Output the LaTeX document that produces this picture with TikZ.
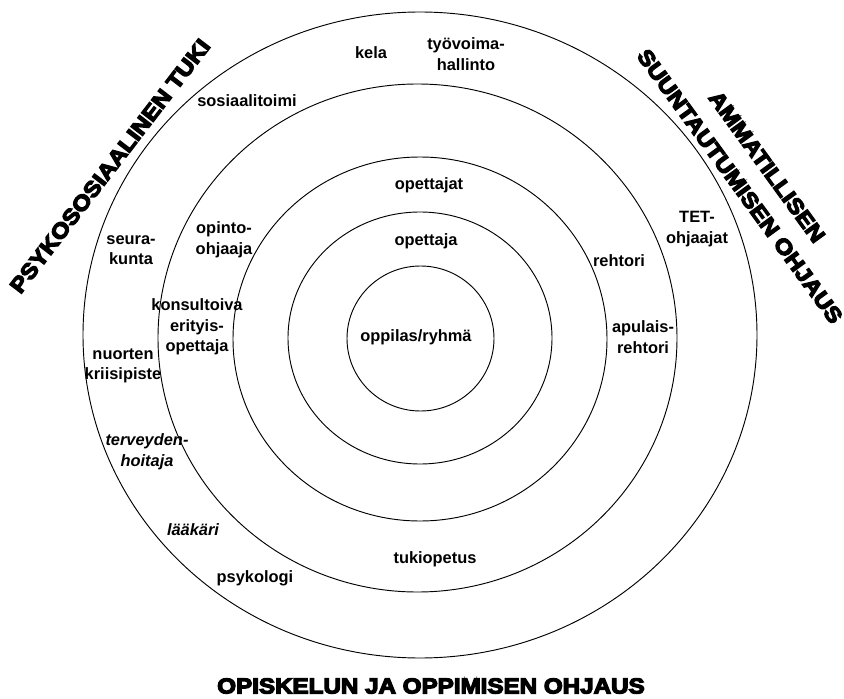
\documentclass[tikz,border=0pt]{standalone}
\usepackage{fontspec}
\usepackage{graphicx}
\setmainfont{Liberation Sans}
\newcommand\heavytext[1]{\special{pdf:literal direct 2 Tr 0.9 w}#1\special{pdf:literal direct 0 Tr}}
\begin{document}
\begin{tikzpicture}[x=0.75pt,y=-0.75pt,
  ring/.style={draw=black,line width=0.7pt},
  lbl/.style={font=\fontsize{12.3}{15.5}\selectfont\bfseries,align=center,inner sep=0pt},
  ilbl/.style={font=\fontsize{12.3}{15.5}\selectfont\bfseries\itshape,align=center,inner sep=0pt},
  big/.style={font=\fontsize{16.2}{25}\selectfont\bfseries,align=center,inner sep=0pt}]
\useasboundingbox (0,0) rectangle (844,699);
% rings
\draw[ring] (420.5,338.5) ellipse [x radius=73.5, y radius=72.5];
\draw[ring] (420,338) ellipse [x radius=132, y radius=126];
\draw[ring] (420,339) ellipse [x radius=187, y radius=182];
\draw[ring] (417.5,338) ellipse [x radius=259.5, y radius=254];
\draw[ring] (420,335) ellipse [x radius=337, y radius=323];
% small labels
\node[lbl] (kela) at (371,53) {kela};
\node[lbl] (tyo) at (466,54) {työvoima-\\hallinto};
\node[lbl] (sos) at (247,101) {sosiaalitoimi};
\node[lbl] (opettajat) at (429,185) {opettajat};
\node[lbl] (opettaja) at (426,241) {opettaja};
\node[lbl] (opinto) at (224,240) {opinto-\\ohjaaja};
\node[lbl] (seura) at (131,250) {seura-\\kunta};
\node[lbl] (konsult) at (197,327) {konsultoiva\\erityis-\\opettaja};
\node[lbl] (nuorten) at (123,366) {nuorten\\kriisipiste};
\node[ilbl] (terv) at (147,452) {terveyden-\\hoitaja};
\node[ilbl] (laakari) at (193,530) {lääkäri};
\node[lbl] (psyk) at (255,578) {psykologi};
\node[lbl] (tuki) at (435,559) {tukiopetus};
\node[lbl] (rehtori) at (619,261) {rehtori};
\node[lbl] (tet) at (697,229) {TET-\\ohjaajat};
\node[lbl] (apul) at (643,337) {apulais-\\rehtori};
\node[lbl] (oppilas) at (416,337) {oppilas/ryhmä};
% big labels
\node[big,rotate=52.5] (psyko) at (110,166) {\heavytext{\scalebox{1.12}[1]{PSYKOSOSIAALINEN TUKI}}};
\node[big,rotate=-54] (ammat) at (753.5,176.5) {\heavytext{\scalebox{1.12}[1]{AMMATILLISEN}}\\\heavytext{\scalebox{1.12}[1]{SUUNTAUTUMISEN OHJAUS}}};
\node[big] (opisk) at (431,686) {\heavytext{\scalebox{1.12}[1]{OPISKELUN JA OPPIMISEN OHJAUS}}};
\end{tikzpicture}
\end{document}
